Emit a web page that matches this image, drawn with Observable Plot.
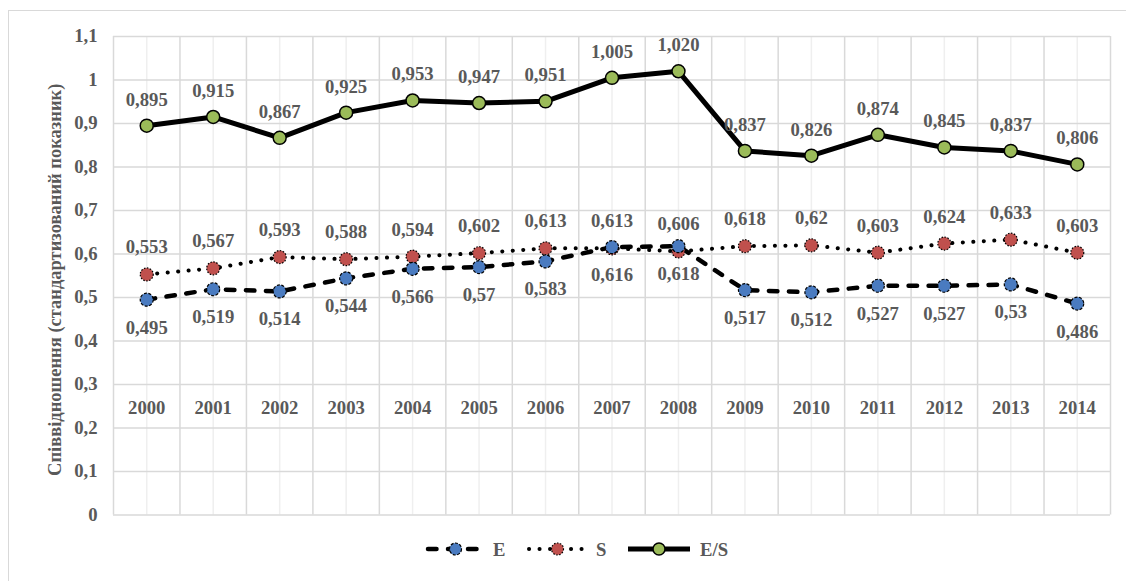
<!DOCTYPE html>
<html>
<head>
<meta charset="utf-8">
<script src="https://cdn.jsdelivr.net/npm/d3@7"></script>
<script src="https://cdn.jsdelivr.net/npm/@observablehq/plot@0.6"></script>
<style>
  html, body { margin: 0; padding: 0; background: #fff; }
  #wrap { position: relative; width: 1126px; height: 581px; overflow: hidden; }
  #border { position: absolute; left: 8px; top: 10px; width: 1130px; height: 600px;
            border: 1.5px solid #d9d9d9; box-sizing: border-box; pointer-events: none; }
  #chart svg, #legend svg { display: block; }
  #chart svg text, #legend svg text { font-family: 'Liberation Serif', 'Times New Roman', serif; }
</style>
</head>
<body>
<div id="wrap">
  <div id="border"></div>
  <div id="chart"></div>
  <div id="legend"></div>
</div>
<script>
const years = [2000,2001,2002,2003,2004,2005,2006,2007,2008,2009,2010,2011,2012,2013,2014];
const seriesE  = [0.495,0.519,0.514,0.544,0.566,0.57,0.583,0.616,0.618,0.517,0.512,0.527,0.527,0.53,0.486];
const seriesS  = [0.553,0.567,0.593,0.588,0.594,0.602,0.613,0.613,0.606,0.618,0.62,0.603,0.624,0.633,0.603];
const seriesES = [0.895,0.915,0.867,0.925,0.953,0.947,0.951,1.005,1.020,0.837,0.826,0.874,0.845,0.837,0.806];
const yTicks = [0,0.1,0.2,0.3,0.4,0.5,0.6,0.7,0.8,0.9,1,1.1];
const yTitle = "Співвідношення (стандартизований показник)";
const legendNames = ["E", "S", "E/S"];

const comma = s => s.replace(".", ",");
const rowsE  = years.map((x, i) => ({x, y: seriesE[i],  label: comma(String(seriesE[i]))}));
const rowsS  = years.map((x, i) => ({x, y: seriesS[i],  label: comma(String(seriesS[i]))}));
const rowsES = years.map((x, i) => ({x, y: seriesES[i], label: comma(seriesES[i].toFixed(3))}));
const boundaries = d3.range(years.length + 1).map(i => years[0] - 0.5 + i);

const FONT = "'Liberation Serif', 'Times New Roman', serif";
const TXT = "#595959";
const BLUE = "#4a7bc0", RED = "#c0504d", GREEN = "#9bbb59";
const DASH = "8.5,11.5", DOT = "0.1,10.4";
const FS = 18.7;

const chart = Plot.plot({
  width: 1126,
  height: 530,
  marginLeft: 113,
  marginRight: 16,
  marginTop: 36,
  marginBottom: 15.5,
  style: {fontFamily: FONT, fontWeight: "bold", fontSize: FS + "px", color: TXT, background: "transparent"},
  x: {type: "linear", domain: [years[0] - 0.5, years[years.length - 1] + 0.5]},
  y: {domain: [0, 1.1]},
  marks: [
    Plot.ruleX(years, {stroke: "#efefef", strokeWidth: 1.5}),
    Plot.ruleX(boundaries, {stroke: "#d9d9d9", strokeWidth: 1.5}),
    Plot.ruleY(yTicks, {stroke: "#d9d9d9", strokeWidth: 1.5}),
    Plot.axisY({ticks: yTicks, tickSize: 0, tickPadding: 16, tickFormat: d => comma(String(d)),
      fill: TXT, fontSize: FS, fontWeight: "bold", label: null}),
    Plot.axisX({ticks: years, tickSize: 0, tickPadding: 0, tickFormat: d => String(d),
      anchor: "bottom", lineAnchor: "middle", dy: -107, fill: TXT, fontSize: FS, fontWeight: "bold", label: null}),
    Plot.text([yTitle], {frameAnchor: "left", rotate: -90, dx: -58, dy: 4, fill: TXT, fontSize: 18.5, fontWeight: "bold", textAnchor: "middle"}),
    // lines
    Plot.line(rowsS,  {x: "x", y: "y", stroke: "#000", strokeWidth: 4, strokeDasharray: DOT, strokeLinecap: "round"}),
    Plot.line(rowsE,  {x: "x", y: "y", stroke: "#000", strokeWidth: 4.5, strokeDasharray: DASH, strokeLinecap: "round"}),
    Plot.line(rowsES, {x: "x", y: "y", stroke: "#000", strokeWidth: 5, strokeLinejoin: "round"}),
    // markers
    Plot.dot(rowsS,  {x: "x", y: "y", r: 6.5, fill: RED, stroke: "#000", strokeWidth: 1.2, strokeDasharray: "1.5,1.5"}),
    Plot.dot(rowsE,  {x: "x", y: "y", r: 6.5, fill: BLUE, stroke: "#000", strokeWidth: 1.2, strokeDasharray: "3,1.5"}),
    Plot.dot(rowsES, {x: "x", y: "y", r: 6.5, fill: GREEN, stroke: "#000", strokeWidth: 1.5}),
    // labels
    Plot.text(rowsES, {x: "x", y: "y", text: "label", dy: -26, fill: TXT, fontSize: FS, fontWeight: "bold"}),
    Plot.text(rowsS,  {x: "x", y: "y", text: "label", dy: -27, fill: TXT, fontSize: FS, fontWeight: "bold"}),
    Plot.text(rowsE,  {x: "x", y: "y", text: "label", dy: 28, fill: TXT, fontSize: FS, fontWeight: "bold"})
  ]
});
document.getElementById("chart").appendChild(chart);

// legend
const lsvg = d3.select("#legend").append("svg").attr("width", 1126).attr("height", 51);
const items = [
  {name: legendNames[0], x0: 428, x1: 483, dash: DASH, w: 4.5, fill: BLUE, mdash: "3,1.5", cap: "round", lw: 1.2},
  {name: legendNames[1], x0: 529, x1: 586, dash: DOT, w: 4, fill: RED, mdash: "1.5,1.5", cap: "round", lw: 1.2},
  {name: legendNames[2], x0: 628, x1: 690, dash: null, w: 5, fill: GREEN, mdash: null, cap: "butt", lw: 1.5}
];
const cy = 19;
items.forEach(it => {
  lsvg.append("line").attr("x1", it.x0).attr("x2", it.x1).attr("y1", cy).attr("y2", cy)
    .attr("stroke", "#000").attr("stroke-width", it.w).attr("stroke-linecap", it.cap)
    .attr("stroke-dasharray", it.dash);
  lsvg.append("circle").attr("cx", (it.x0 + it.x1) / 2).attr("cy", cy).attr("r", 6)
    .attr("fill", it.fill).attr("stroke", "#000").attr("stroke-width", it.lw).attr("stroke-dasharray", it.mdash);
  lsvg.append("text").attr("x", it.x1 + 10).attr("y", cy).attr("dy", "0.35em")
    .attr("font-family", FONT).attr("font-weight", "bold").attr("font-size", FS).attr("fill", TXT)
    .text(it.name);
});
</script>
</body>
</html>
